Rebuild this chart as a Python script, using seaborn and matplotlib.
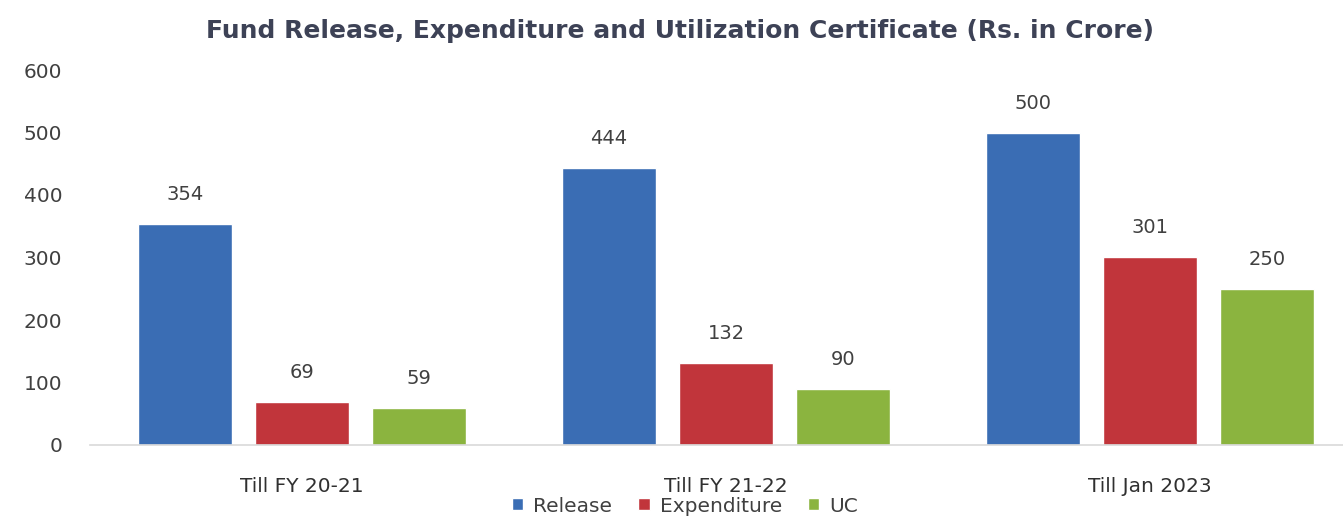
import matplotlib
matplotlib.use("Agg")
import matplotlib.pyplot as plt
import seaborn as sns
import pandas as pd
from matplotlib.patches import Patch

categories = ["Till FY 20-21", "Till FY 21-22", "Till Jan 2023"]
series = ["Release", "Expenditure", "UC"]
release = [354, 444, 500]
expenditure = [69, 132, 301]
uc = [59, 90, 250]
yticks = [0, 100, 200, 300, 400, 500, 600]

colors = ["#3a6db4", "#c1353b", "#8bb43f"]

rows = []
for s, vals in zip(series, [release, expenditure, uc]):
    for c, v in zip(categories, vals):
        rows.append({"Category": c, "Series": s, "Value": v})
df = pd.DataFrame(rows)

sns.set_theme(style="white")
plt.rcParams["font.family"] = ["DejaVu Sans"]

fig = plt.figure(figsize=(13.43, 5.2), dpi=100)
ax = fig.add_axes([90 / 1343, 75 / 520, 1253 / 1343, 375 / 520])

sns.barplot(data=df, x="Category", y="Value", hue="Series", hue_order=series,
            order=categories, palette=colors, width=0.83, gap=0.2,
            saturation=1, legend=False, ax=ax)

for cont in ax.containers:
    for bar in cont:
        h = bar.get_height()
        ax.annotate(f"{int(round(h))}", (bar.get_x() + bar.get_width() / 2, h),
                    xytext=(0, 21), textcoords="offset points",
                    ha="center", va="center", fontsize=14, color="#404040")

ax.set_xlim(-0.5, 2.455)
ax.set_ylim(0, 600)
ax.set_yticks(yticks)
ax.set_yticklabels([str(t) for t in yticks], fontsize=14.5, color="#404040")
ax.tick_params(axis="x", labelsize=14.5, colors="#303030", pad=23, length=0)
ax.tick_params(axis="y", pad=20, length=0)
ax.set_xlabel("")
ax.set_ylabel("")
for sp in ["top", "right", "left"]:
    ax.spines[sp].set_visible(False)
ax.spines["bottom"].set_color("#d9d9d9")
ax.spines["bottom"].set_linewidth(1.2)

fig.text(680 / 1343, 1 - 31 / 520,
         "Fund Release, Expenditure and Utilization Certificate (Rs. in Crore)",
         ha="center", va="center", fontsize=18, fontweight="bold", color="#3d4256")

handles = [Patch(facecolor=c, label=s) for c, s in zip(colors, series)]
fig.legend(handles=handles, loc="center", bbox_to_anchor=(685 / 1343, 1 - 506 / 520),
           ncol=3, frameon=False, fontsize=14.5, handlelength=0.55, handleheight=0.55,
           columnspacing=1.3, handletextpad=0.5, labelcolor="#404040",
           borderpad=0, borderaxespad=0)

fig.savefig("out.png", dpi=100)
